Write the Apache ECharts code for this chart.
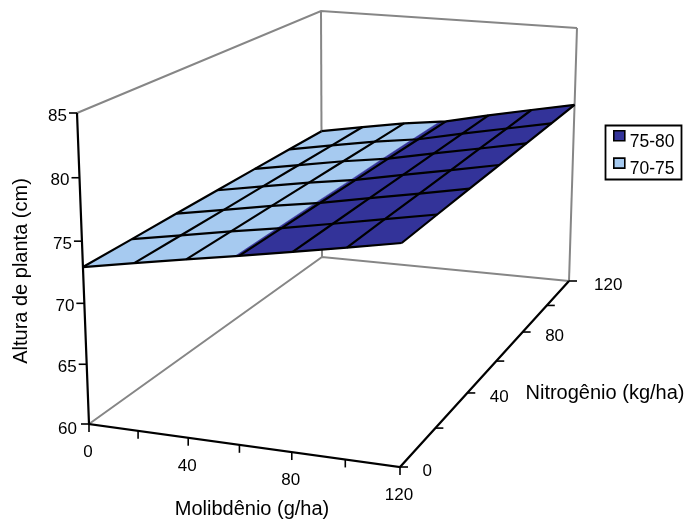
<!DOCTYPE html>
<html><head><meta charset="utf-8">
<style>html,body{margin:0;padding:0;background:#fff}#c{width:686px;height:519px}</style>
<script src="https://cdn.jsdelivr.net/npm/echarts@6/dist/echarts.min.js"></script>
</head><body><div id="c"></div>
<script>
// ---- data ----
const molibdenio = [0, 20, 40, 60, 80, 100, 120];
const nitrogenio = [0, 20, 40, 60, 80, 100, 120];
const alturaN0   = [72.93, 73.66, 74.37, 75.05, 75.75, 76.47, 77.19];
const alturaN20  = [72.96, 73.68, 74.40, 75.06, 75.79, 76.53, 77.27];
const alturaN40  = [73.00, 73.71, 74.43, 75.07, 75.83, 76.58, 77.35];
const alturaN60  = [73.03, 73.75, 74.46, 75.07, 75.87, 76.64, 77.42];
const alturaN80  = [73.06, 73.78, 74.49, 75.08, 75.91, 76.70, 77.50];
const alturaN100 = [73.08, 73.81, 74.52, 75.08, 75.95, 76.77, 77.58];
const alturaN120 = [73.10, 73.85, 74.55, 75.08, 76.00, 76.85, 77.66];
const superficie = [alturaN0, alturaN20, alturaN40, alturaN60, alturaN80, alturaN100, alturaN120];
const alturaTicks = [60, 65, 70, 75, 80, 85];
const moTickLabels = [0, 40, 80, 120];
const nTickLabels = [0, 40, 80, 120];
const limiteFaixa = 75;
const faixaAlta = '75-80', faixaBaixa = '70-75';

// ---- perspective of the 3D box (image position of its corners) ----
// order: (Mo 0, N 0) (Mo 120, N 0) (Mo 120, N 120) (Mo 0, N 120)
const base = [[89, 424], [400, 467], [569, 281], [322, 257]];
const teto = [[77, 113], [402.5, 136], [577, 28], [321, 11]];
const razaoW = 0.951;

function homography(q) {
  const [x0,y0]=q[0],[x1,y1]=q[1],[x2,y2]=q[2],[x3,y3]=q[3];
  const dx1=x1-x2,dx2=x3-x2,sx=x0-x1+x2-x3,dy1=y1-y2,dy2=y3-y2,sy=y0-y1+y2-y3;
  const d=dx1*dy2-dx2*dy1;
  const g=(sx*dy2-dx2*sy)/d,h=(dx1*sy-sx*dy1)/d;
  return [[x1-x0+g*x1,x3-x0+h*x3,x0],[y1-y0+g*y1,y3-y0+h*y3,y0],[g,h,1]];
}
const hBase = homography(base), hTeto = homography(teto);
function applyH(H,u,v){
  const W=H[2][0]*u+H[2][1]*v+H[2][2];
  return [(H[0][0]*u+H[0][1]*v+H[0][2])/W,(H[1][0]*u+H[1][1]*v+H[1][2])/W];
}
function project(mo, n, alt) {
  const u=mo/120,v=n/120,t=(alt-60)/25;
  const b=applyH(hBase,u,v),c=applyH(hTeto,u,v);
  const w=(1-t)+t*razaoW;
  return [((1-t)*b[0]+t*razaoW*c[0])/w,((1-t)*b[1]+t*razaoW*c[1])/w];
}
function polyline(api,pts,style){
  return {type:'polyline',shape:{points:pts.map(p=>api.coord(p))},style:Object.assign({fill:null},style)};
}
function label(api,p,dx,dy,text,align){
  const c=api.coord(p);
  return {type:'text',x:c[0]+dx,y:c[1]+dy,style:{text:String(text),fill:'#000',font:'17px "Liberation Sans"',align:align||'center',verticalAlign:'middle'}};
}
function clipCell(poly,keepAbove){
  const out=[];
  for(let i=0;i<poly.length;i++){
    const a=poly[i],b=poly[(i+1)%poly.length];
    const ina=keepAbove?a[2]>=limiteFaixa:a[2]<=limiteFaixa;
    const inb=keepAbove?b[2]>=limiteFaixa:b[2]<=limiteFaixa;
    if(ina)out.push(a);
    if(ina!==inb){
      const t=(limiteFaixa-a[2])/(b[2]-a[2]);
      out.push([a[0]+t*(b[0]-a[0]),a[1]+t*(b[1]-a[1]),limiteFaixa]);
    }
  }
  return out;
}
const celulas=[];
for(let j=0;j<nitrogenio.length-1;j++)for(let i=0;i<molibdenio.length-1;i++)celulas.push([i,j]);
const cellRender=keepAbove=>(params,api)=>{
  const i=api.value(0),j=api.value(1);
  const poly=[[i,j],[i+1,j],[i+1,j+1],[i,j+1]].map(([a,b])=>[molibdenio[a],nitrogenio[b],superficie[b][a]]);
  const c=clipCell(poly,keepAbove);
  if(c.length<3)return {type:'group',children:[]};
  return {type:'polygon',shape:{points:c.map(p=>api.coord(project(p[0],p[1],p[2])))},
    style:{fill:api.visual('color'),stroke:api.visual('color'),lineWidth:0.5}};
};
const cinza={stroke:'#868686',lineWidth:2};
const preto={stroke:'#000',lineWidth:2.2};
const malha={stroke:'#000',lineWidth:2.2};
const tick=(api,p,dx,dy)=>{const c=api.coord(p);return {type:'line',shape:{x1:c[0],y1:c[1],x2:c[0]+dx,y2:c[1]+dy},style:{stroke:'#000',lineWidth:1.6}};};

const chart=echarts.init(document.getElementById('c'),null,{renderer:'canvas'});
chart.setOption({
  animation:false,
  backgroundColor:'#fff',
  grid:{left:0,right:0,top:0,bottom:0},
  xAxis:{type:'value',min:0,max:686,show:false},
  yAxis:{type:'value',min:0,max:519,inverse:true,show:false},
  graphic:[{type:'rect',z:0,silent:true,shape:{x:605.5,y:125.5,width:76,height:54},style:{fill:'#fff',stroke:'#000',lineWidth:1.8}}],
  legend:{
    data:[faixaAlta,faixaBaixa],orient:'vertical',left:613,top:130,padding:0,itemGap:6,
    itemWidth:11,itemHeight:10,icon:'rect',
    selectedMode:false,itemStyle:{borderColor:'#000',borderWidth:1.6},
    formatter:n=>`{t|${n}}`,
    textStyle:{color:'#000',fontFamily:'"Liberation Sans"',fontSize:17.5,rich:{t:{color:'#000',fontFamily:'"Liberation Sans"',fontSize:17.5,padding:[13,0,0,0]}}}
  },
  series:[
    {type:'custom',name:'paredes',silent:true,z:1,data:[[0]],renderItem:(p,api)=>({type:'group',children:[
      polyline(api,[project(0,0,60),project(0,120,60),project(120,120,60)],cinza),
      polyline(api,[project(0,120,60),project(0,120,85)],cinza),
      polyline(api,[project(120,120,60),project(120,120,85)],cinza),
      polyline(api,[project(0,0,85),project(0,120,85),project(120,120,85)],cinza)
    ]})},
    {type:'custom',name:faixaBaixa,silent:true,z:2,itemStyle:{color:'#A6CAF0'},data:celulas,renderItem:cellRender(false)},
    {type:'custom',name:faixaAlta,silent:true,z:2,itemStyle:{color:'#333399'},data:celulas,renderItem:cellRender(true)},
    {type:'custom',name:'malha',silent:true,z:3,data:[[0]],renderItem:(p,api)=>{
      const ch=[];
      nitrogenio.forEach((n,j)=>ch.push(polyline(api,molibdenio.map((m,i)=>project(m,n,superficie[j][i])),malha)));
      molibdenio.forEach((m,i)=>ch.push(polyline(api,nitrogenio.map((n,j)=>project(m,n,superficie[j][i])),malha)));
      return {type:'group',children:ch};
    }},
    {type:'custom',name:'eixos',silent:true,z:4,data:[[0]],renderItem:(p,api)=>{
      const ch=[
        polyline(api,[project(0,0,85),project(0,0,60),project(120,0,60),project(120,120,60)],preto)
      ];
      alturaTicks.forEach(a=>{
        const q=project(0,0,a);
        ch.push(tick(api,q,-8,0));
        ch.push(label(api,q,a===60?-12:-10,a===60?5:3,a,'right'));
      });
      molibdenio.forEach(m=>ch.push(tick(api,project(m,0,60),0,8)));
      nitrogenio.forEach(n=>ch.push(tick(api,project(120,n,60),8,0)));
      moTickLabels.forEach(m=>ch.push(label(api,project(m,0,60),-1,28.5,m)));
      nTickLabels.forEach(n=>ch.push(label(api,project(120,n,60),n===120?25:22.5,4,n,'left')));
      const tit=(x,y,t,rot)=>({type:'text',x:x,y:y,rotation:rot||0,style:{text:t,fill:'#000',font:'20px "Liberation Sans"',align:'center',verticalAlign:'middle'}});
      ch.push(tit(21,271,'Altura de planta (cm)',Math.PI/2));
      ch.push(tit(252,509,'Molibdênio (g/ha)'));
      ch.push(tit(605,393,'Nitrogênio (kg/ha)'));
      return {type:'group',children:ch};
    }}
  ]
});
</script></body></html>
